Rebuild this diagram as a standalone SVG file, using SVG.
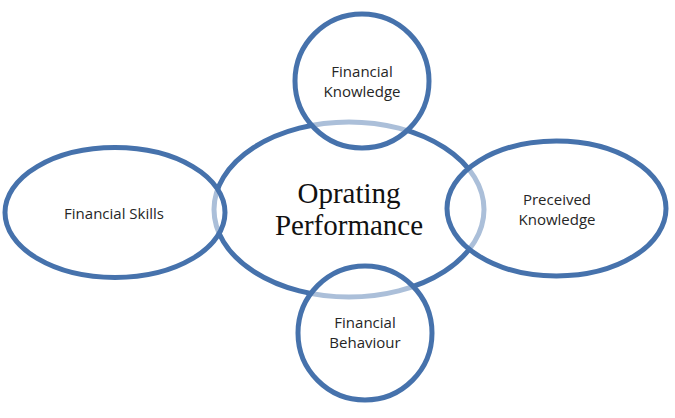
<svg xmlns="http://www.w3.org/2000/svg" width="675" height="418" viewBox="0 0 675 418">
<style>
.shape{fill:#ffffff;stroke:#4672AC;stroke-width:5}
.sat{fill:#ffffff;fill-opacity:0.55;stroke:#4672AC;stroke-width:5}
.lbl{font-family:"Open Sans","DejaVu Sans",sans-serif;font-size:15px;fill:#262626;text-anchor:middle}
.main{font-family:"Liberation Serif","Times New Roman",serif;font-size:29px;fill:#111111;text-anchor:middle}
</style>
<rect width="675" height="418" fill="#ffffff"/>
<g id="operating-performance">
<ellipse class="shape" cx="349" cy="209.5" rx="135" ry="87.5"/>
<text class="main" x="349" y="203">Oprating</text>
<text class="main" x="349" y="235">Performance</text>
</g>
<g id="financial-knowledge">
<circle class="sat" cx="362" cy="81" r="67"/>
<text class="lbl" x="362" y="77">Financial</text>
<text class="lbl" x="362" y="97">Knowledge</text>
</g>
<g id="financial-skills">
<ellipse class="sat" cx="115" cy="212.5" rx="110" ry="65"/>
<text class="lbl" x="114" y="219">Financial Skills</text>
</g>
<g id="preceived-knowledge">
<ellipse class="sat" cx="556.5" cy="208.5" rx="109.5" ry="67.5"/>
<text class="lbl" x="557" y="205">Preceived</text>
<text class="lbl" x="557" y="225">Knowledge</text>
</g>
<g id="financial-behaviour">
<circle class="sat" cx="365" cy="333" r="67"/>
<text class="lbl" x="365" y="328">Financial</text>
<text class="lbl" x="365" y="348">Behaviour</text>
</g>
</svg>
